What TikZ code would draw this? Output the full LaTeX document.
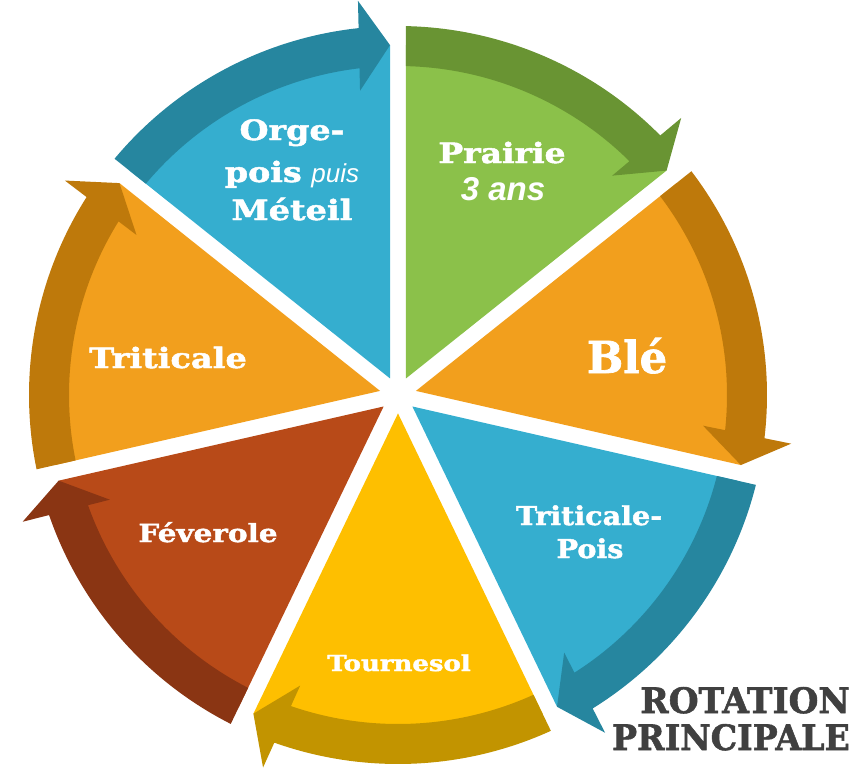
\documentclass[tikz,border=0pt]{standalone}
\usepackage{fontspec}
\setmainfont{DejaVu Serif}
\newfontfamily\slab{DejaVu Serif}[BoldFeatures={FakeBold=1.6}]
\newfontfamily\arialish{Liberation Sans}
\definecolor{blueL}{HTML}{35AECF}
\definecolor{blueD}{HTML}{26869F}
\definecolor{greenL}{HTML}{8BC14A}
\definecolor{greenD}{HTML}{699433}
\definecolor{orangeL}{HTML}{F29F1D}
\definecolor{orangeD}{HTML}{BE790B}
\definecolor{yellowL}{HTML}{FEBF00}
\definecolor{yellowD}{HTML}{C29400}
\definecolor{redL}{HTML}{B84A18}
\definecolor{redD}{HTML}{8A3513}
\definecolor{txtgray}{HTML}{404040}
\newcommand\rotseg[3]{%
  \pgfmathsetmacro\aS{#1}%
  \pgfmathsetmacro\aE{#1-360/7}%
  \pgfmathsetmacro\aM{#1-180/7}%
  \pgfmathsetmacro\tp{\aE+1.31}%
  \fill[#2] (\aM:18.4pt) -- (\aS-1.31:350pt)
     arc[start angle=\aS-1.31, end angle=\aE+1.31, radius=350pt] -- cycle;
  \fill[#3] (\aS-1.24:369pt)
     arc[start angle=\aS-1.24, end angle=\tp+4.82, radius=369pt]
     -- (\tp+4.49:396.2pt) -- (\tp:350pt) -- (\tp+5.80:306.6pt)
     -- (\tp+5.41:329pt)
     arc[start angle=\tp+5.41, end angle=\aS-1.39, radius=329pt] -- cycle;
}
\newcommand\sx[2]{\scalebox{#1}[1]{#2}}
\begin{document}
\begin{tikzpicture}[x=1pt,y=1pt,
  lbl/.style={text=white, inner sep=0pt, anchor=base, font=\slab\bfseries\fontsize{#1}{#1}\selectfont},
  lbl/.default=28,
  title/.style={text=txtgray, inner sep=0pt, anchor=base east, font=\slab\bfseries\fontsize{35}{35}\selectfont}]
\useasboundingbox (-398,-377) rectangle (458,395);
\rotseg{90+360/7}{blueL}{blueD}
\rotseg{90}{greenL}{greenD}
\rotseg{90-360/7}{orangeL}{orangeD}
\rotseg{90-720/7}{blueL}{blueD}
\rotseg{90-1080/7}{yellowL}{yellowD}
\rotseg{90-1440/7}{redL}{redD}
\rotseg{90-1800/7}{orangeL}{orangeD}
\node[lbl] (orge1) at (-106,255) {\sx{1.19}{Orge-}};
\node[lbl] (orge2) at (-106,213) {\sx{1.19}{pois} {\arialish\mdseries\itshape\fontsize{26}{26}\selectfont puis}};
\node[lbl] (orge3) at (-106,175) {\sx{1.2}{Méteil}};
\node[lbl] (prairie1) at (104,232) {\sx{1.18}{Prairie}};
\node[lbl, font=\arialish\bfseries\itshape\fontsize{33}{33}\selectfont] (prairie2) at (105,195) {3 ans};
\node[lbl=44] (ble) at (229,22) {\sx{0.98}{Blé}};
\node[lbl=26] (tp1) at (191,-130) {\sx{1.1}{Triticale-}};
\node[lbl=26] (tp2) at (192,-163) {\sx{1.1}{Pois}};
\node[lbl=22] (tournesol) at (1,-276) {\sx{1.18}{Tournesol}};
\node[lbl=25] (feverole) at (-190,-147) {\sx{1.18}{Féverole}};
\node[lbl] (triticale) at (-230,27) {\sx{1.2}{Triticale}};
\node[title] (rot1) at (452,-318) {\sx{0.98}{ROTATION}};
\node[title] (rot2) at (452,-355) {\sx{0.95}{PRINCIPALE}};
\end{tikzpicture}
\end{document}
